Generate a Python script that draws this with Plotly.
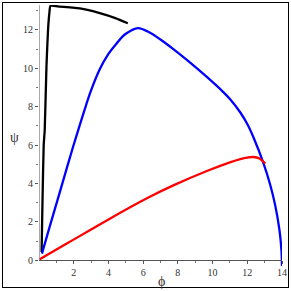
import plotly.graph_objects as go

# data
phi_black = [0.15, 0.2, 0.27, 0.33, 0.43, 0.52, 0.6, 0.66, 1.2, 2.35, 3.5, 4.4, 5.12]
psi_black = [0.43, 3.0, 6.0, 6.8, 10.1, 12.0, 12.9, 13.25, 13.22, 13.12, 12.88, 12.62, 12.35]

phi_blue = [0.17, 0.6, 1.2, 1.96, 2.7, 3.0, 3.5, 4.0, 4.47, 5.0, 5.7, 6.4, 7.0, 7.74, 8.5, 9.67,
            10.63, 11.0, 11.6, 12.0, 12.36, 12.94, 13.3, 13.6, 13.85, 13.97, 14.0]
psi_blue = [0.35, 1.7, 3.55, 5.9, 8.05, 8.85, 9.95, 10.75, 11.3, 11.8, 12.1, 11.85, 11.5, 11.0, 10.45, 9.55,
            8.75, 8.4, 7.7, 7.1, 6.4, 5.04, 4.0, 2.9, 1.6, 0.5, -0.3]

phi_red = [0.04, 1.5, 3.0, 4.08, 6.3, 7.74, 9.67, 11.0, 11.6, 12.0, 12.36, 12.7, 13.04]
psi_red = [0.05, 0.82, 1.6, 2.17, 3.27, 3.9, 4.65, 5.1, 5.27, 5.35, 5.38, 5.3, 5.04]

x_ticks = [2, 4, 6, 8, 10, 12, 14]
x_minor = [1, 3, 5, 7, 9, 11, 13]
y_ticks = [0, 2, 4, 6, 8, 10, 12]
y_minor = [1, 3, 5, 7, 9, 11, 13]

W = H = 291
PL, PR, PT, PB = 39, 282, 5, 267   # plot area in pixels
YMIN, YMAX = -0.35, 13.3
XMIN, XMAX = 0, 14

def px_x(p):
    return p / W

def px_y(p):
    return (H - p) / H

fig = go.Figure()
for xs, ys, c, sm in [(phi_black, psi_black, "black", 0.5), (phi_blue, psi_blue, "#0000ff", 1.0), (phi_red, psi_red, "#ff0000", 1.0)]:
    fig.add_trace(go.Scatter(x=xs, y=ys, mode="lines", line=dict(color=c, width=2.3, shape="spline", smoothing=sm),
                             showlegend=False, hoverinfo="skip"))
# frame axes (outer border box)
fig.add_trace(go.Scatter(x=[None], y=[None], xaxis="x2", yaxis="y2", showlegend=False, hoverinfo="skip"))

ydom = [px_y(PB), px_y(PT)]
zero_pos = ydom[0] + (0 - YMIN) / (YMAX - YMIN) * (ydom[1] - ydom[0])

font = dict(family="Liberation Serif", size=10, color="#333")
fig.update_layout(
    width=W, height=H, margin=dict(l=0, r=0, t=0, b=0, autoexpand=False),
    paper_bgcolor="white", plot_bgcolor="rgba(0,0,0,0)",
    xaxis=dict(domain=[px_x(PL), px_x(PR)], range=[XMIN, XMAX], anchor="free", position=zero_pos,
               showline=True, linecolor="#555", linewidth=1,
               tickmode="array", tickvals=x_ticks, ticks="outside", ticklen=3, tickcolor="#555",
               minor=dict(tickvals=x_minor, ticks="outside", ticklen=2, tickcolor="#777"),
               showgrid=False, zeroline=False, tickfont=font, automargin=False, fixedrange=True),
    yaxis=dict(domain=ydom, range=[YMIN, YMAX], anchor="x", showline=False, tickmode="array", tickvals=y_ticks,
               ticks="outside", ticklen=3, tickcolor="#555",
               minor=dict(tickvals=y_minor, ticks="outside", ticklen=2, tickcolor="#777"),
               showgrid=False, zeroline=False, tickfont=font, automargin=False, fixedrange=True),
    xaxis2=dict(domain=[px_x(2.5), px_x(287.5)], anchor="y2", range=[0, 1], showline=True, mirror=True,
                linecolor="black", linewidth=1, showticklabels=False, ticks="", showgrid=False, zeroline=False,
                fixedrange=True),
    yaxis2=dict(domain=[px_y(287), px_y(2.5)], anchor="x2", range=[0, 1], showline=True, mirror=True,
                linecolor="black", linewidth=1, showticklabels=False, ticks="", showgrid=False, zeroline=False,
                fixedrange=True),
    shapes=[
        dict(type="line", xref="x", yref="y", x0=0, x1=0, y0=0, y1=YMAX, line=dict(color="#555", width=1)),
    ],
    annotations=[
        dict(text="ϕ", xref="paper", yref="paper", x=px_x(161), y=px_y(281), xanchor="center", yanchor="middle",
             showarrow=False, font=dict(family="Liberation Serif", size=14, color="#333")),
        dict(text="ψ", xref="paper", yref="paper", x=px_x(14), y=px_y(137), xanchor="center", yanchor="middle",
             showarrow=False, font=dict(family="Liberation Serif", size=14, color="#333")),
    ],
)
fig.write_html("out.html", config={"displayModeBar": False, "staticPlot": True},
               post_script="document.body.style.margin='0';document.body.style.padding='0';")
